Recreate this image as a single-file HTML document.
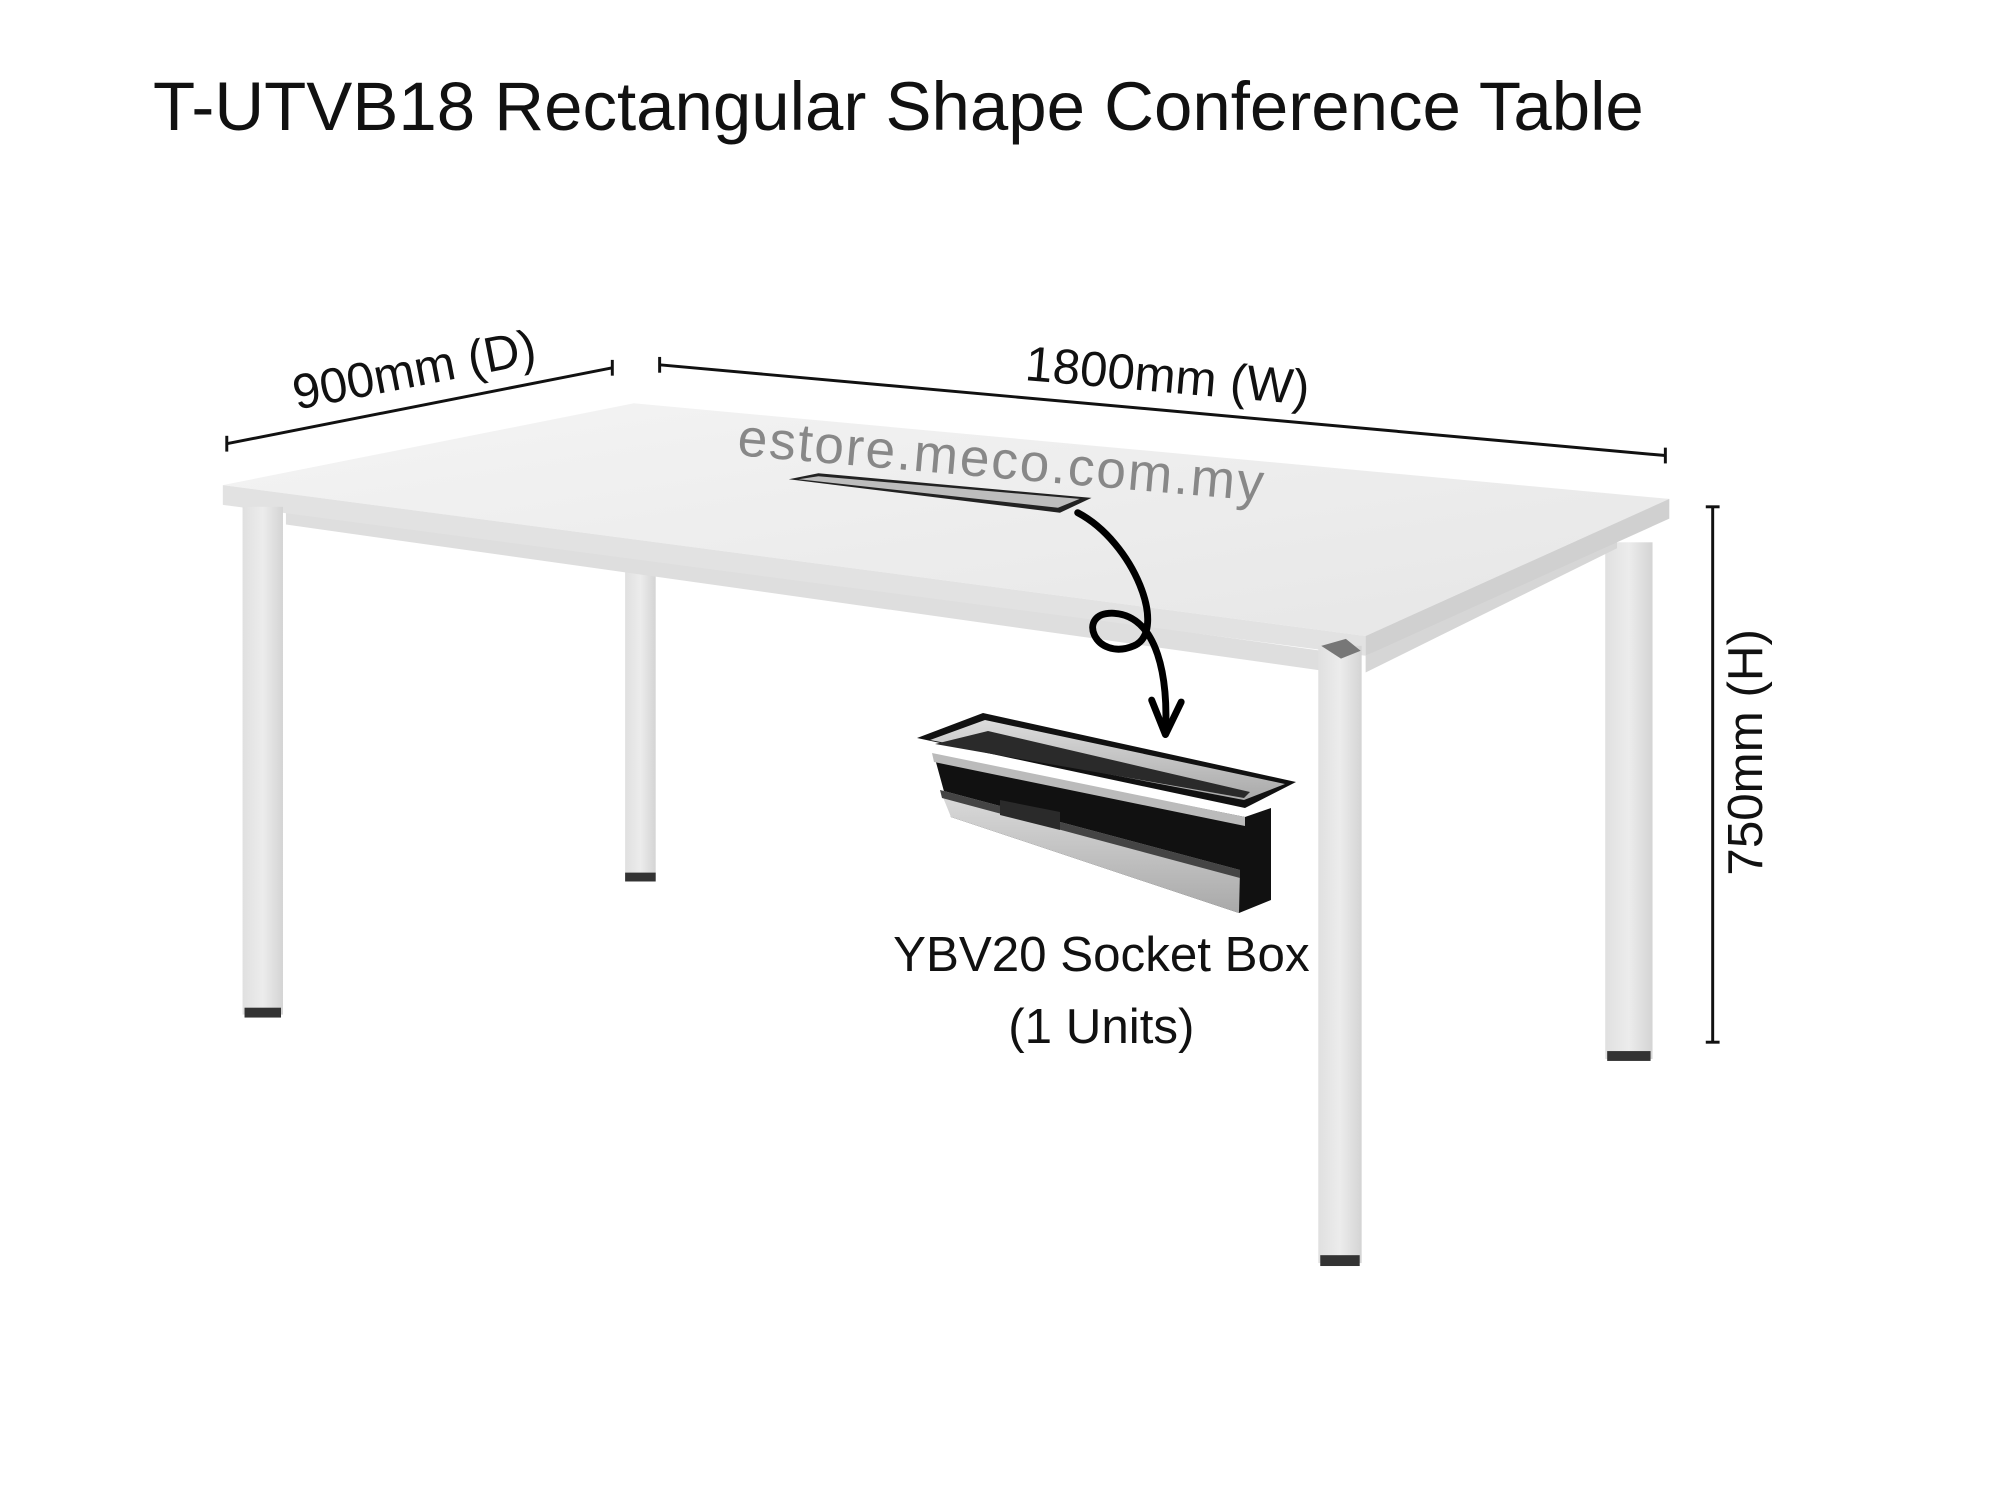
<!DOCTYPE html>
<html><head><style>
html,body{margin:0;padding:0;background:#fff;}
svg{display:block;}
text{font-family:"Liberation Sans","DejaVu Sans",sans-serif;}
</style></head><body>
<svg width="2000" height="1487" viewBox="0 0 2000 1487" xmlns="http://www.w3.org/2000/svg">
<defs>
<linearGradient id="top" x1="0" y1="0" x2="1" y2="1"><stop offset="0" stop-color="#f4f4f4"/><stop offset="1" stop-color="#e6e6e6"/></linearGradient>
<linearGradient id="leg" x1="0" y1="0" x2="1" y2="0"><stop offset="0" stop-color="#e0e0e0"/><stop offset="0.5" stop-color="#ececec"/><stop offset="1" stop-color="#d4d4d4"/></linearGradient>
<linearGradient id="alu" x1="0" y1="0" x2="0" y2="1"><stop offset="0" stop-color="#dcdcdc"/><stop offset="1" stop-color="#a9a9a9"/></linearGradient>
</defs>
<text x="153" y="130" font-size="69" fill="#111">T-UTVB18 Rectangular Shape Conference Table</text>

<g transform="scale(0.986)">
<!-- back legs -->
<rect x="634" y="570" width="31" height="323" fill="url(#leg)"/>
<rect x="634" y="885" width="31" height="9" fill="#333"/>
<rect x="1628" y="550" width="48" height="524" fill="url(#leg)"/>
<rect x="1630" y="1066" width="44" height="10" fill="#333"/>
<!-- apron -->
<polygon points="290,512 1340,660 1340,680 290,532" fill="#dedede"/>
<polygon points="1385,665 1640,540 1640,556 1385,682" fill="#d6d6d6"/>
<!-- tabletop -->
<polygon points="226,492 643,409 1693,506 1385,645" fill="url(#top)"/>
<polygon points="226,492 1385,645 1385,665 226,512" fill="#e2e2e2"/>
<polygon points="1385,645 1693,506 1693,526 1385,665" fill="#d0d0d0"/>
<!-- front legs -->
<rect x="246" y="514" width="41" height="515" fill="url(#leg)"/>
<rect x="248" y="1022" width="37" height="10" fill="#333"/>
<rect x="1337" y="655" width="44" height="626" fill="url(#leg)"/>
<rect x="1339" y="1273" width="40" height="11" fill="#333"/>
<polygon points="1340,655 1365,648 1380,660 1360,668" fill="#777"/>
<!-- slot -->
<polygon points="800,486 830,480 1107,505 1075,520" fill="#222"/>
<polygon points="810,486 830,483 1095,506 1073,515" fill="#bdbdbd"/>
<!-- watermark -->
<text x="1016" y="485" font-size="54" fill="#888" text-anchor="middle" transform="rotate(5 1016 468)" letter-spacing="2">estore.meco.com.my</text>
<!-- dimension lines -->
<g stroke="#111" stroke-width="3" fill="none">
<line x1="230" y1="450" x2="621" y2="373"/><line x1="230" y1="442" x2="230" y2="458"/><line x1="621" y1="365" x2="621" y2="381"/>
<line x1="669" y1="370" x2="1689" y2="462"/><line x1="669" y1="362" x2="669" y2="378"/><line x1="1689" y1="454" x2="1689" y2="470"/>
<line x1="1737" y1="514" x2="1737" y2="1057"/><line x1="1730" y1="514" x2="1744" y2="514"/><line x1="1730" y1="1057" x2="1744" y2="1057"/>
</g>
<text x="420" y="392" font-size="50" fill="#111" text-anchor="middle" transform="rotate(-11 420 375)">900mm (D)</text>
<text x="1184" y="398" font-size="50" fill="#111" text-anchor="middle" transform="rotate(5 1184 382)">1800mm (W)</text>
<text x="1770" y="780" font-size="50" fill="#111" text-anchor="middle" transform="rotate(-90 1770 763)">750mm (H)</text>
<!-- curved arrow -->
<path d="M1093,520 C1150,550 1185,640 1150,655 C1110,672 1090,620 1130,622 C1175,625 1185,690 1182,742" stroke="#000" stroke-width="7" fill="none" stroke-linecap="round"/>
<path d="M1168,710 L1182,745 L1198,712" stroke="#000" stroke-width="7" fill="none" stroke-linecap="round" stroke-linejoin="round"/>
<text x="1117" y="985" font-size="50" fill="#111" text-anchor="middle">YBV20 Socket Box</text>
<text x="1117" y="1058" font-size="50" fill="#111" text-anchor="middle">(1 Units)</text>
</g>

<!-- socket box -->
<polygon points="934,755 1245,817 1271,808 1271,900 1239,913 951,817" fill="#111"/>
<polygon points="940,790 1240,870 1239,913 951,817" fill="url(#alu)"/>
<polygon points="940,790 1240,870 1240,878 942,798" fill="#444"/>
<polygon points="1000,800 1060,812 1060,830 1000,815" fill="#2a2a2a"/>
<polygon points="917,738 983,713 1296,782 1245,808" fill="#111"/>
<polygon points="930,740 985,720 1285,784 1244,800" fill="url(#alu)"/>
<polygon points="935,744 988,731 1250,792 1244,798" fill="#2a2a2a"/>
<polygon points="932,753 1245,817 1245,826 934,762" fill="#bbb"/>
</svg>
</body></html>
